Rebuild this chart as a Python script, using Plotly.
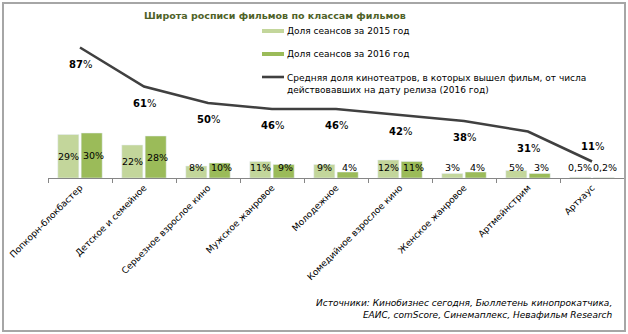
import plotly.graph_objects as go

categories = ["Попкорн-блокбастер", "Детское и семейное", "Серьезное взрослое кино",
              "Мужское жанровое", "Молодежное", "Комедийное взрослое кино",
              "Женское жанровое", "Артмейнстрим", "Артхаус"]
share_2015 = [29, 22, 8, 11, 9, 12, 3, 5, 0.5]
share_2016 = [30, 28, 10, 9, 4, 11, 4, 3, 0.2]
avg_cinemas_2016 = [87, 61, 50, 46, 46, 42, 38, 31, 11]

name_2015 = "Доля сеансов за 2015 год"
name_2016 = "Доля сеансов за 2016 год"
name_line = "Средняя доля кинотеатров, в которых вышел фильм, от числа<br>действовавших на дату релиза (2016 год)"
title_text = "Широта росписи фильмов по классам фильмов"
source_text = ("Источники: Кинобизнес сегодня, Бюллетень кинопрокатчика,<br>"
               "ЕАИС, comScore, Синемаплекс, Невафильм Research")

C15 = "#C3D69B"
C16 = "#9BBB59"
CL = "#404040"
FONT = "DejaVu Sans"

W, H = 628, 334
L, R, T, B = 48, 624, 28, 178  # plot area in px


def px(x):
    return (x - L) / (R - L)


def py(y):
    return (B - y) / (B - T)


def fmt(v):
    s = ("%g" % v).replace(".", ",")
    return s + "%"


fig = go.Figure()
fig.add_trace(go.Bar(x=categories, y=share_2015, marker_color=C15, name=name_2015,
                     showlegend=False))
fig.add_trace(go.Bar(x=categories, y=share_2016, marker_color=C16, name=name_2016,
                     showlegend=False))
fig.add_trace(go.Scatter(x=categories, y=avg_cinemas_2016, mode="lines",
                         line=dict(color=CL, width=2.6), name="line", showlegend=False))

ann = []
for c, a, b in zip(categories, share_2015, share_2016):
    ann.append(dict(x=c, y=max(a / 2, 7.3), text=fmt(a), xshift=-12, showarrow=False,
                    font=dict(family=FONT, size=9.5, color="black")))
    ann.append(dict(x=c, y=max(b / 2, 7.3), text=fmt(b), xshift=13, showarrow=False,
                    font=dict(family=FONT, size=9.5, color="black")))
for i, (c, v) in enumerate(zip(categories, avg_cinemas_2016)):
    yy = v + 10 if i == len(categories) - 1 else v - 11
    ann.append(dict(x=c, y=yy, text="<b>%d</b>%%" % v, showarrow=False,
                    font=dict(family=FONT, size=10, color="black")))

# title
ann.append(dict(xref="paper", yref="paper", x=px(142), y=py(15), xanchor="left",
                yanchor="middle", text="<b>" + title_text + "</b>", showarrow=False,
                font=dict(family=FONT, size=9.5, color="#4F6228")))
# legend texts
ann.append(dict(xref="paper", yref="paper", x=px(285), y=py(31), xanchor="left",
                yanchor="middle", text=name_2015, showarrow=False,
                font=dict(family=FONT, size=9, color="black")))
ann.append(dict(xref="paper", yref="paper", x=px(285), y=py(54), xanchor="left",
                yanchor="middle", text=name_2016, showarrow=False,
                font=dict(family=FONT, size=9, color="black")))
ann.append(dict(xref="paper", yref="paper", x=px(285), y=py(71), xanchor="left",
                yanchor="top", align="left", text=name_line, showarrow=False,
                font=dict(family=FONT, size=9, color="black")))
# source
ann.append(dict(xref="paper", yref="paper", x=px(615), y=py(296), xanchor="right",
                yanchor="top", align="right", text="<i>" + source_text + "</i>",
                showarrow=False, font=dict(family=FONT, size=9, color="black")))

shapes = [
    dict(type="line", xref="paper", yref="paper", x0=px(262), x1=px(284), y0=py(31), y1=py(31),
         line=dict(color=C15, width=4)),
    dict(type="line", xref="paper", yref="paper", x0=px(262), x1=px(284), y0=py(54), y1=py(54),
         line=dict(color=C16, width=4)),
    dict(type="line", xref="paper", yref="paper", x0=px(262), x1=px(284), y0=py(77), y1=py(77),
         line=dict(color=CL, width=2.6)),
    dict(type="rect", xref="paper", yref="paper", x0=px(3), x1=px(625), y0=py(3), y1=py(331),
         line=dict(color="#A6A6A6", width=2)),
]

fig.update_layout(
    width=W, height=H,
    margin=dict(l=L, r=W - R, t=T, b=H - B),
    paper_bgcolor="white", plot_bgcolor="white",
    barmode="group", bargap=0.27, bargroupgap=0.1,
    annotations=ann, shapes=shapes,
    showlegend=False,
    xaxis=dict(type="category", showgrid=False, showline=True, linecolor="#868686",
               linewidth=1, ticks="outside", tickson="boundaries", ticklen=4,
               tickcolor="#868686", tickangle=-45,
               tickfont=dict(family=FONT, size=9, color="black")),
    yaxis=dict(range=[0, 100], visible=False, showgrid=False, zeroline=False),
)

fig.write_html("out.html")
